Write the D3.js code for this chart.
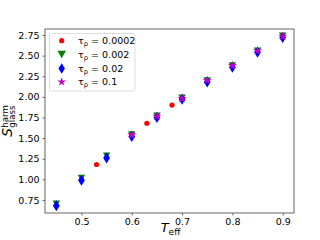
<!DOCTYPE html>
<html>
<head>
<meta charset="utf-8">
<script src="https://cdn.jsdelivr.net/npm/d3@7"></script>
<style>
  body { margin: 0; background: #fff; }
  text { font-family: "DejaVu Sans", sans-serif; }
</style>
</head>
<body>
<div id="chart"></div>
<script>
// temperatures and values
const tempsAll = [0.45, 0.5, 0.55, 0.6, 0.65, 0.7, 0.75, 0.8, 0.85, 0.9];
const tempsRed = [0.53, 0.63, 0.68];
const valsRed = [1.18, 1.68, 1.90];
const valsGreen = [0.705, 1.015, 1.285, 1.545, 1.77, 1.99, 2.20, 2.38, 2.56, 2.74];
const valsBlue = [0.68, 0.99, 1.26, 1.52, 1.75, 1.97, 2.18, 2.36, 2.54, 2.72];
const tempsMag = [0.6, 0.65, 0.7, 0.75, 0.8, 0.85, 0.9];
const valsMag = [1.54, 1.765, 1.98, 2.20, 2.38, 2.56, 2.735];
const legendLabels = ["0.0002", "0.002", "0.02", "0.1"];
const xTicks = [0.5, 0.6, 0.7, 0.8, 0.9];
const yTicks = [0.75, 1.00, 1.25, 1.50, 1.75, 2.00, 2.25, 2.50, 2.75];

const width = 320, height = 240;
const margin = {top: 29, right: 26, bottom: 27, left: 45};

const svg = d3.select('#chart').append('svg')
  .attr('width', width).attr('height', height);

const x = d3.scaleLinear().domain([0.4275, 0.9225]).range([margin.left, width - margin.right]);
const y = d3.scaleLinear().domain([0.592, 2.823]).range([height - margin.bottom, margin.top]);

// marker shapes
function dot(r) { return d3.symbol().type(d3.symbolCircle).size(Math.PI * r * r)(); }
function triDown(w, h) { return `M${-w/2},${-h/2}L${w/2},${-h/2}L0,${h/2}Z`; }
function thinDiamond(w, h) { return `M0,${-h/2}L${w/2},0L0,${h/2}L${-w/2},0Z`; }
function star(r) {
  let p = [];
  for (let i = 0; i < 10; i++) {
    const a = -Math.PI / 2 + i * Math.PI / 5;
    const rr = i % 2 === 0 ? r : r * 0.382;
    p.push([rr * Math.cos(a), rr * Math.sin(a)]);
  }
  return 'M' + p.map(d => d.join(',')).join('L') + 'Z';
}

const series = [
  {xs: tempsRed, ys: valsRed, color: '#ff0000', path: dot(2.6), leg: dot(2.6)},
  {xs: tempsAll, ys: valsGreen, color: '#008000', path: triDown(7.5, 6.5), leg: triDown(8.5, 7.5)},
  {xs: tempsAll, ys: valsBlue, color: '#0000ff', path: thinDiamond(6.8, 11), leg: thinDiamond(6.5, 10.5)},
  {xs: tempsMag, ys: valsMag, color: '#bf00bf', path: star(4.8), leg: star(4.6)}
];

series.forEach(s => {
  svg.append('g').selectAll('path')
    .data(s.xs.map((t, i) => [t, s.ys[i]]))
    .join('path')
    .attr('d', s.path)
    .attr('transform', d => `translate(${x(d[0])},${y(d[1])})`)
    .attr('fill', s.color);
});

// axes
const xAxis = svg.append('g')
  .attr('transform', `translate(0,${height - margin.bottom})`)
  .call(d3.axisBottom(x).tickValues(xTicks).tickSize(2.5).tickPadding(3).tickFormat(d3.format('.1f')));
const yAxis = svg.append('g')
  .attr('transform', `translate(${margin.left},0)`)
  .call(d3.axisLeft(y).tickValues(yTicks).tickSize(2.5).tickPadding(3).tickFormat(d3.format('.2f')));
[xAxis, yAxis].forEach(g => {
  g.select('.domain').remove();
  g.selectAll('text').attr('font-size', 9.5).attr('fill', '#000').style('font-family', '"DejaVu Sans", sans-serif');
  g.selectAll('line').attr('stroke', '#000').attr('stroke-width', 0.6);
});

svg.append('rect')
  .attr('x', margin.left).attr('y', margin.top)
  .attr('width', width - margin.left - margin.right)
  .attr('height', height - margin.top - margin.bottom)
  .attr('fill', 'none').attr('stroke', '#555').attr('stroke-width', 0.9);

// legend
const legend = svg.append('g');
legend.append('rect')
  .attr('x', 49.5).attr('y', 33.5).attr('width', 85.5).attr('height', 57.5)
  .attr('rx', 2).attr('fill', '#fff').attr('fill-opacity', 0.8)
  .attr('stroke', '#d6d6d6').attr('stroke-width', 0.8);
const rowY = [40.7, 54.6, 68.4, 81.9];
series.forEach((s, i) => {
  legend.append('path').attr('d', s.leg)
    .attr('transform', `translate(61.7,${rowY[i]})`).attr('fill', s.color);
  const t = legend.append('text').attr('x', 78).attr('y', rowY[i] + 3.3).attr('font-size', 9.5);
  t.append('tspan').text('τ');
  t.append('tspan').attr('font-size', 6.8).attr('dy', 2).text('ρ');
  t.append('tspan').attr('dy', -2).text(' = ' + legendLabels[i]);
});

// x label
const xl = svg.append('text').attr('x', 170.5).attr('y', 232).attr('text-anchor', 'middle');
xl.append('tspan').attr('font-size', 13).attr('font-style', 'italic').text('T');
xl.append('tspan').attr('font-size', 9).attr('dy', 2.5).text('eff');

// y label
const yl = svg.append('g').attr('transform', `translate(12,121) rotate(-90)`);
const sT = yl.append('text').attr('font-size', 13.5).attr('font-style', 'italic').text('S');
const sw = sT.node().getComputedTextLength();
const hT = yl.append('text').attr('x', sw + 0.6).attr('y', -4.5).attr('font-size', 8.6).text('harm');
const gT = yl.append('text').attr('x', sw + 0.6).attr('y', 2.6).attr('font-size', 8.6).text('glass');
const total = sw + 0.6 + Math.max(hT.node().getComputedTextLength(), gT.node().getComputedTextLength());
yl.selectAll('text').attr('transform', `translate(${-total / 2},0)`);
</script>
</body>
</html>
